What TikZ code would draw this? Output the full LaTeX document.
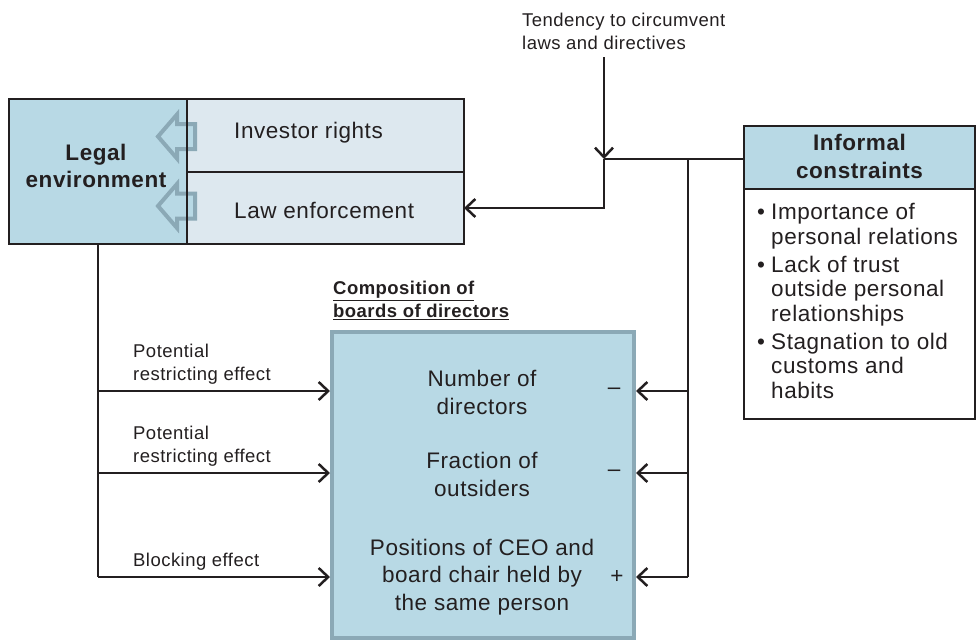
\documentclass[tikz,border=0pt]{standalone}
\usepackage{fontspec}
\setmainfont{Liberation Sans}[LetterSpace=2.5]
\usetikzlibrary{arrows.meta}
\definecolor{boxblue}{HTML}{B8D9E5}
\definecolor{palefill}{HTML}{DDE8EF}
\definecolor{frameblue}{HTML}{8BA9B6}
\definecolor{ink}{HTML}{231F20}
\newcommand{\myBullet}{\makebox[14pt][l]{\textbullet}}
\newcommand{\myIndent}{\hspace*{14pt}}
\tikzset{
  frame/.style={draw=ink, line width=2.5pt, inner sep=0pt, outer sep=0pt},
  conn/.style={draw=ink, line width=2.5pt},
  arr/.style={conn, -{Straight Barb[length=9.5pt,width=18pt]}},
  big/.style={font=\fontsize{22.5}{27.5}\selectfont, inner sep=0pt, align=center, text=ink},
  bigbold/.style={big, font=\fontsize{22.5}{27.5}\selectfont\bfseries},
  small/.style={font=\fontsize{18.5}{23}\selectfont, inner sep=0pt, align=left, text=ink},
  hollow/.style={draw=frameblue, fill=boxblue, line width=4pt, line join=miter},
}
\begin{document}
\begin{tikzpicture}[x=1pt,y=-1pt]
\useasboundingbox (0,0) rectangle (976,642);

% legal environment block
\node[frame, fill=boxblue, minimum width=178, minimum height=145] (legal) at (98,171.5) {};
\node[frame, fill=palefill, minimum width=277, minimum height=73] (inv) at (325.5,135.5) {};
\node[frame, fill=palefill, minimum width=277, minimum height=72] (law) at (325.5,208) {};
% hollow arrows feeding the legal environment
\draw[hollow] (158,136.5) -- (177,114.5) -- (177,124) -- (195,124) -- (195,149)
  -- (177,149) -- (177,158.5) -- cycle;
\draw[hollow] (158,206) -- (177,184) -- (177,193.5) -- (195,193.5) -- (195,218.5)
  -- (177,218.5) -- (177,228) -- cycle;
\draw[conn] (legal.north east) -- (legal.south east);
\node[bigbold] (legaltxt) at (96,166) {Legal\\environment};
\node[big, anchor=west] (invtxt) at (234,133) {Investor rights};
\node[big, anchor=west] (lawtxt) at (234,210) {Law enforcement};

% informal constraints
\node[frame, fill=boxblue, minimum width=231, minimum height=63] (infhead) at (859.5,157.5) {};
\node[bigbold] (inftxt) at (859.5,156.5) {Informal\\constraints};
\node[frame, fill=white, minimum width=231, minimum height=230] (infbody) at (859.5,304) {};
\node[big, align=left, anchor=west, font=\fontsize{22.5}{24.5}\selectfont] (inflist) at (757,301) {%
\myBullet Importance of\\ \myIndent personal relations\\[3.5pt]
\myBullet Lack of trust\\ \myIndent outside personal\\ \myIndent relationships\\[3.5pt]
\myBullet Stagnation to old\\ \myIndent customs and\\ \myIndent habits};

% composition of boards
\node[small, font=\fontsize{18.5}{23}\selectfont\bfseries, anchor=west] (comp) at (333,300.5)
  {\underline{Composition of}\\\underline{boards of directors}};
\node[draw=frameblue, line width=4pt, fill=boxblue, minimum width=302, minimum height=306] (board) at (483,485) {};
\node[big] (ndir) at (482,392.5) {Number of\\directors};
\node[big] (nout) at (482,474.5) {Fraction of\\outsiders};
\node[big] (npos) at (482,577) {Positions of CEO and\\board chair held by\\the same person};
\node[big] (s1) at (614,391) {–};
\node[big] (s2) at (614,473) {–};
\node[big] (s3) at (617,577) {+};

% tendency to circumvent
\node[small, anchor=west] (tend) at (522,31) {Tendency to circumvent\\laws and directives};
\coordinate (J) at (604,159);
\coordinate (K) at (688,159);
\draw[arr, shorten <=8pt] (tend.south -| J) -- (J);
\draw[conn] (infhead.west |- J) -- (J);
\draw[arr] (J) -- (J |- law.east) -- (law.east);

% informal constraints acting on the board
\draw[conn] (K) -- (K |- s3);
\draw[arr] (K |- s1) -- (board.east |- s1);
\draw[arr] (K |- s2) -- (board.east |- s2);
\draw[arr] (K |- s3) -- (board.east |- s3);

% legal environment acting on the board
\draw[conn] (legal.south) -- (legal.south |- s3);
\draw[arr] (legal.south |- s1) -- (board.west |- s1);
\draw[arr] (legal.south |- s2) -- (board.west |- s2);
\draw[arr] (legal.south |- s3) -- (board.west |- s3);
\node[small, anchor=west] (lab1) at (133,364) {Potential\\restricting effect};
\node[small, anchor=west] (lab2) at (133,446) {Potential\\restricting effect};
\node[small, anchor=west] (lab3) at (133,562) {Blocking effect};
\end{tikzpicture}
\end{document}
